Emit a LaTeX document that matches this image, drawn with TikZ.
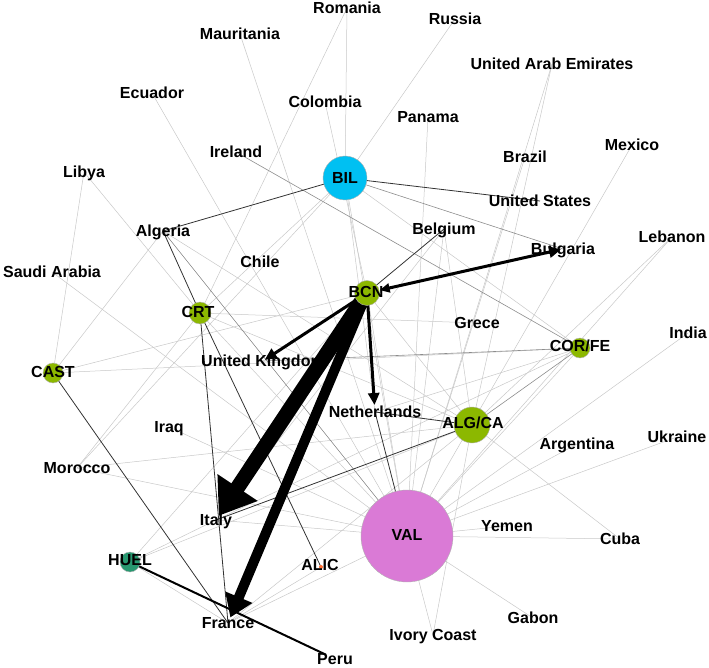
\documentclass[tikz,border=0pt]{standalone}
\usepackage{fontspec}
\setmainfont{Liberation Sans}
\usetikzlibrary{arrows.meta}
\pgfdeclarelayer{edges}
\pgfsetlayers{edges,main}
\definecolor{hubgreen}{RGB}{140,184,0}
\definecolor{bilblue}{RGB}{0,192,242}
\definecolor{valpink}{RGB}{218,122,214}
\definecolor{huelteal}{RGB}{40,152,112}
\definecolor{alicorange}{RGB}{255,110,50}
\definecolor{elight}{RGB}{200,200,200}
\definecolor{emid}{RGB}{140,140,140}
\definecolor{edark}{RGB}{50,50,50}
\begin{document}
\begin{tikzpicture}[x=1pt,y=-1pt,
 lbl/.style={font=\fontsize{16}{18}\selectfont\bfseries, text height=11.5pt, text depth=0pt, inner sep=0pt},
 hub/.style={circle, draw=gray!60, line width=0.4pt, inner sep=0pt, minimum size=#1},
 el/.style={draw=elight, line width=0.5pt},
 em/.style={draw=emid, line width=0.6pt},
 ed/.style={draw=edark, line width=0.8pt},
 heavy/.style={draw=black, line width=#1}]
\useasboundingbox (0,0) rectangle (709,668);
% hub circles
\node[hub=44pt, fill=bilblue] (bilc) at (345,178) {};
\node[hub=25pt, fill=hubgreen] (bcnc) at (367,293) {};
\node[hub=22pt, fill=hubgreen] (crtc) at (200,313) {};
\node[hub=20pt, fill=hubgreen] (castc) at (53,373) {};
\node[hub=20pt, fill=hubgreen] (corfec) at (580,348) {};
\node[hub=36pt, fill=hubgreen] (algcac) at (472,425) {};
\node[hub=92pt, fill=valpink] (valc) at (407,536) {};
\node[hub=20pt, fill=huelteal] (huelc) at (130,562) {};
\node[circle, fill=alicorange, inner sep=0pt, minimum size=4pt] (alicc) at (321,567) {};
% hub labels
\node[lbl] (bil) at (345,178) {BIL};
\node[lbl] (bcn) at (366,292) {BCN};
\node[lbl] (crt) at (198,312) {CRT};
\node[lbl] (cast) at (53,372) {CAST};
\node[lbl] (corfe) at (580,346) {COR/FE};
\node[lbl] (algca) at (473,423) {ALG/CA};
\node[lbl] (val) at (407,535) {VAL};
\node[lbl] (huel) at (130,560) {HUEL};
\node[lbl] (alic) at (320,565) {ALIC};
% country labels
\node[lbl] (romania) at (347,8) {Romania};
\node[lbl] (mauritania) at (240,34) {Mauritania};
\node[lbl] (russia) at (455,19) {Russia};
\node[lbl] (uae) at (552,64) {United Arab Emirates};
\node[lbl] (ecuador) at (152,93) {Ecuador};
\node[lbl] (colombia) at (325,102) {Colombia};
\node[lbl] (panama) at (428,117) {Panama};
\node[lbl] (mexico) at (632,145) {Mexico};
\node[lbl] (ireland) at (236,152) {Ireland};
\node[lbl] (brazil) at (525,157) {Brazil};
\node[lbl] (libya) at (84,172) {Libya};
\node[lbl] (unitedstates) at (540,201) {United States};
\node[lbl] (algeria) at (163,231) {Algeria};
\node[lbl] (belgium) at (444,229) {Belgium};
\node[lbl] (bulgaria) at (563,249) {Bulgaria};
\node[lbl] (lebanon) at (672,237) {Lebanon};
\node[lbl] (saudi) at (52,272) {Saudi Arabia};
\node[lbl] (chile) at (260,262) {Chile};
\node[lbl] (grece) at (477,323) {Grece};
\node[lbl] (india) at (688,333) {India};
\node[lbl] (uk) at (263,361) {United Kingdom};
\node[lbl] (netherlands) at (375,412) {Netherlands};
\node[lbl] (iraq) at (169,427) {Iraq};
\node[lbl] (argentina) at (577,444) {Argentina};
\node[lbl] (ukraine) at (677,437) {Ukraine};
\node[lbl] (morocco) at (77,468) {Morocco};
\node[lbl] (italy) at (216,520) {Italy};
\node[lbl] (yemen) at (507,526) {Yemen};
\node[lbl] (cuba) at (620,539) {Cuba};
\node[lbl] (france) at (228,623) {France};
\node[lbl] (gabon) at (533,618) {Gabon};
\node[lbl] (ivorycoast) at (433,635) {Ivory Coast};
\node[lbl] (peru) at (335,659) {Peru};
\begin{pgfonlayer}{edges}
\foreach \a/\b in {bilc/romania, bilc/russia, bilc/corfec, bilc/crtc, bilc/morocco,
  bilc/netherlands, bilc/valc, bcnc/colombia, romania/crtc, mauritania/valc,
  ecuador/valc, libya/crtc, libya/castc, saudi/valc, algeria/algcac, algeria/castc,
  crtc/grece, crtc/algcac, crtc/valc, castc/corfec, castc/bcnc, morocco/algcac,
  morocco/valc, morocco/crtc, iraq/valc, huelc/bcnc, huelc/algcac, huelc/italy,
  huelc/france, uae/valc, uae/algcac, brazil/valc, panama/valc, mexico/valc,
  belgium/valc, belgium/algcac, belgium/italy, lebanon/algcac, lebanon/valc,
  india/valc, ukraine/valc, argentina/valc, valc/yemen, valc/cuba, algcac/cuba,
  valc/gabon, valc/ivorycoast, algcac/ivorycoast, corfec/valc, corfec/netherlands,
  corfec/italy, italy/valc, france/valc, france/alicc, france/algcac, bcnc/valc,
  bcnc/algcac}
  \draw[el] (\a.center) -- (\b.center);
\foreach \a/\b in {bilc/bulgaria, ireland/corfec, algeria/valc, corfec/uk, corfec/algcac}
  \draw[em] (\a.center) -- (\b.center);
\foreach \a/\b in {bilc/unitedstates, bilc/algeria, algeria/crtc, crtc/france, crtc/alicc,
  castc/france, belgium/bcnc, netherlands/algcac, netherlands/valc, algcac/italy}
  \draw[ed] (\a.center) -- (\b.center);
\draw[heavy=2pt, shorten >=10pt] (huelc.center) -- (peru.center);
\draw[heavy=15pt, -{Triangle[length=34pt,width=46pt]}, shorten >=5pt] (bcnc.center) -- (italy.center);
\draw[heavy=10pt, -{Triangle[length=22pt,width=28pt]}, shorten >=6pt] (bcnc.center) -- (france.center);
\draw[heavy=3pt, -{Triangle[length=12pt,width=11pt]}, shorten >=2pt] (bcnc.center) -- (uk.center);
\draw[heavy=3pt, -{Triangle[length=12pt,width=11pt]}, shorten >=7pt] (bcnc.center) -- (netherlands.center);
\draw[heavy=3pt, {Triangle[length=10pt,width=9pt]}-{Triangle[length=12pt,width=11pt]}, shorten <=13pt, shorten >=2pt] (bcnc.center) -- (bulgaria.center);
\end{pgfonlayer}
\end{tikzpicture}
\end{document}
